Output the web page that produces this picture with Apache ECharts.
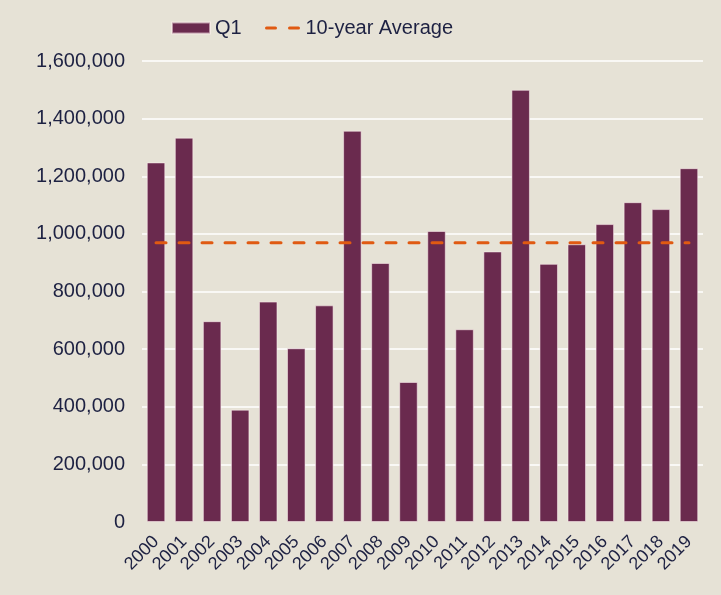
<!DOCTYPE html>
<html>
<head>
<meta charset="utf-8">
<script src="https://cdn.jsdelivr.net/npm/echarts@6/dist/echarts.min.js"></script>
<style>
html,body{margin:0;padding:0;background:#e6e2d6;}
#chart{width:721px;height:595px;}
</style>
</head>
<body>
<div id="chart"></div>
<script>
var categories = ['2000','2001','2002','2003','2004','2005','2006','2007','2008','2009','2010','2011','2012','2013','2014','2015','2016','2017','2018','2019'];
var q1Values = [1248000,1334000,697000,390000,765000,603000,752000,1358000,899000,486000,1010000,669000,939000,1500000,896000,964000,1034000,1110000,1086000,1228000];
var avgValues = [969000,969000,969000,969000,969000,969000,969000,969000,969000,969000,969000,969000,969000,969000,969000,969000,969000,969000,969000,969000];
var yTicks = {min:0, max:1600000, interval:200000};

var textColor = '#1d2142';
var font = 'Liberation Sans, Arial, sans-serif';
var chart = echarts.init(document.getElementById('chart'), null, {renderer:'canvas'});
chart.setOption({
  backgroundColor:'#e6e2d6',
  animation:false,
  grid:{left:142, right:18, top:61, bottom:73, containLabel:false},
  legend:[
    {data:['Q1'], left:166, top:13, itemWidth:38, itemHeight:11, icon:'rect',
     textStyle:{color:textColor, fontSize:20, fontFamily:font, lineHeight:20}},
    {data:[{name:'10-year Average', icon:'path://M1.5,0h9a1.5,1.5 0 0 1 0,3h-9a1.5,1.5 0 0 1 0,-3z M24.5,0h9a1.5,1.5 0 0 1 0,3h-9a1.5,1.5 0 0 1 0,-3z'}],
     left:260, top:13, itemWidth:36, itemHeight:3,
     itemStyle:{color:'#e05a12'},
     textStyle:{color:textColor, fontSize:20, fontFamily:font, lineHeight:20}}
  ],
  xAxis:{
    type:'category', data:categories,
    axisLine:{show:false}, axisTick:{show:false},
    axisLabel:{rotate:45, interval:0, margin:17, color:textColor, fontSize:18, fontFamily:font}
  },
  yAxis:{
    type:'value', min:yTicks.min, max:yTicks.max, interval:yTicks.interval,
    axisLine:{show:false}, axisTick:{show:false},
    splitLine:{show:true, showMinLine:false, lineStyle:{color:'#ffffff', width:1.5}},
    axisLabel:{margin:17, color:textColor, fontSize:20, fontFamily:font,
      formatter:function(v){return v.toLocaleString('en-US');}}
  },
  series:[
    {name:'Q1', type:'bar', data:q1Values, barWidth:'66%',
     itemStyle:{color:'#6a2a4e', borderColor:'rgba(255,240,240,0.55)', borderWidth:1}},
    {name:'10-year Average', type:'line', data:avgValues, symbol:'none',
     lineStyle:{type:[10,13], width:3, cap:'round', color:'#e05a12'},
     itemStyle:{color:'#e05a12'}, z:5}
  ]
});
</script>
</body>
</html>
